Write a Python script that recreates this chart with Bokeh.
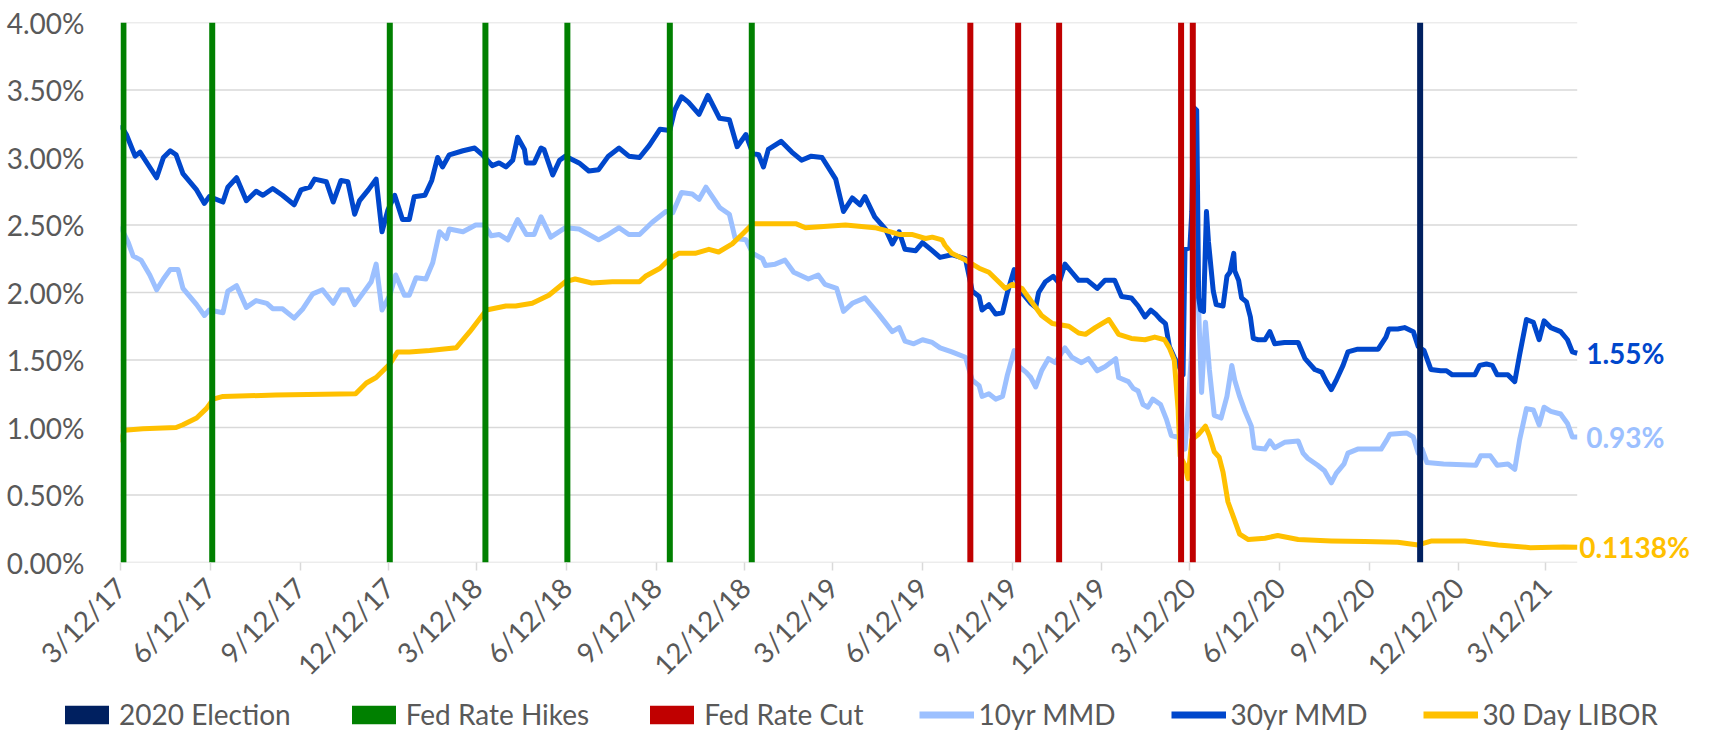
import math
import pandas as pd
from bokeh.plotting import figure
from bokeh.layouts import column
from bokeh.models import (FixedTicker, PrintfTickFormatter, Legend, LegendItem,
                          Label, Range1d)
from bokeh.embed import file_html
from bokeh.resources import INLINE

# ---------------- data ----------------
tick_labels = ["3/12/17", "6/12/17", "9/12/17", "12/12/17", "3/12/18", "6/12/18",
               "9/12/18", "12/12/18", "3/12/19", "6/12/19", "9/12/19", "12/12/19",
               "3/12/20", "6/12/20", "9/12/20", "12/12/20", "3/12/21"]
y_ticks = [0.0, 0.5, 1.0, 1.5, 2.0, 2.5, 3.0, 3.5, 4.0]

hike_dates = ["2017-03-15", "2017-06-14", "2017-12-13", "2018-03-21", "2018-06-13",
              "2018-09-26", "2018-12-19"]
cut_dates = ["2019-07-31", "2019-09-18", "2019-10-30", "2020-03-03", "2020-03-15"]
election_dates = ["2020-11-03"]

mmd30_dates = [
    "2017-03-12", "2017-03-18", "2017-03-27", "2017-04-01", "2017-04-09", "2017-04-18",
    "2017-04-25", "2017-05-02", "2017-05-08", "2017-05-15", "2017-05-29", "2017-06-06",
    "2017-06-11", "2017-06-25", "2017-06-30", "2017-07-09", "2017-07-19", "2017-07-29",
    "2017-08-05", "2017-08-15", "2017-08-25", "2017-09-06", "2017-09-13", "2017-09-22",
    "2017-09-27", "2017-10-09", "2017-10-16", "2017-10-24", "2017-10-31", "2017-11-07",
    "2017-11-12", "2017-11-21", "2017-11-29", "2017-12-05", "2017-12-11", "2017-12-18",
    "2017-12-26", "2018-01-02", "2018-01-07", "2018-01-18", "2018-01-25", "2018-01-31",
    "2018-02-05", "2018-02-12", "2018-02-26", "2018-03-10", "2018-03-18", "2018-03-28",
    "2018-04-04", "2018-04-11", "2018-04-18", "2018-04-23", "2018-04-30", "2018-05-02",
    "2018-05-10", "2018-05-17", "2018-05-20", "2018-05-29", "2018-06-05", "2018-06-11",
    "2018-06-25", "2018-07-05", "2018-07-15", "2018-07-25", "2018-08-05", "2018-08-15",
    "2018-08-26", "2018-09-05", "2018-09-16", "2018-09-26", "2018-10-01", "2018-10-08",
    "2018-10-15", "2018-10-26", "2018-11-04", "2018-11-16", "2018-11-26", "2018-12-04",
    "2018-12-13", "2018-12-20", "2018-12-26", "2018-12-31", "2019-01-05", "2019-01-18",
    "2019-01-29", "2019-02-08", "2019-02-18", "2019-03-01", "2019-03-15", "2019-03-23",
    "2019-04-01", "2019-04-09", "2019-04-14", "2019-04-24", "2019-05-05", "2019-05-12",
    "2019-05-19", "2019-05-25", "2019-06-05", "2019-06-12", "2019-06-22", "2019-06-30",
    "2019-07-12", "2019-07-26", "2019-08-02", "2019-08-09", "2019-08-12", "2019-08-19",
    "2019-08-26", "2019-09-02", "2019-09-07", "2019-09-14", "2019-09-19", "2019-09-24",
    "2019-10-01", "2019-10-06", "2019-10-09", "2019-10-16", "2019-10-24", "2019-10-30",
    "2019-11-05", "2019-11-12", "2019-11-19", "2019-11-28", "2019-12-08", "2019-12-16",
    "2019-12-26", "2020-01-02", "2020-01-12", "2020-01-19", "2020-01-26", "2020-02-01",
    "2020-02-06", "2020-02-11", "2020-02-16", "2020-02-20", "2020-02-25", "2020-03-01",
    "2020-03-05", "2020-03-07", "2020-03-12", "2020-03-14", "2020-03-16", "2020-03-19",
    "2020-03-21", "2020-03-23", "2020-03-26", "2020-03-29", "2020-03-31", "2020-04-05",
    "2020-04-08", "2020-04-15", "2020-04-19", "2020-04-22", "2020-04-26", "2020-04-27",
    "2020-05-01", "2020-05-04", "2020-05-09", "2020-05-13", "2020-05-16", "2020-05-21",
    "2020-05-28", "2020-06-02", "2020-06-07", "2020-06-17", "2020-07-01", "2020-07-08",
    "2020-07-18", "2020-07-25", "2020-07-30", "2020-08-04", "2020-08-09", "2020-08-16",
    "2020-08-21", "2020-08-31", "2020-09-21", "2020-09-29", "2020-10-02", "2020-10-11",
    "2020-10-18", "2020-10-27", "2020-11-01", "2020-11-07", "2020-11-14", "2020-11-24",
    "2020-11-30", "2020-12-06", "2020-12-29", "2021-01-03", "2021-01-10", "2021-01-16",
    "2021-01-21", "2021-02-01", "2021-02-08", "2021-02-13", "2021-02-20", "2021-02-27",
    "2021-03-05", "2021-03-10", "2021-03-17", "2021-03-27", "2021-04-03", "2021-04-08",
    "2021-04-13"]
mmd30_vals = [
    3.24, 3.17, 3.01, 3.04, 2.95, 2.85, 3.00, 3.05, 3.02, 2.88, 2.76, 2.66,
    2.71, 2.67, 2.78, 2.85, 2.68, 2.75, 2.72, 2.77, 2.72, 2.65, 2.76, 2.78,
    2.84, 2.82, 2.67, 2.83, 2.82, 2.58, 2.68, 2.76, 2.84, 2.45, 2.61, 2.72,
    2.54, 2.54, 2.71, 2.72, 2.83, 3.00, 2.93, 3.02, 3.05, 3.07, 3.02, 2.94,
    2.96, 2.93, 2.98, 3.15, 3.06, 2.96, 2.96, 3.07, 3.06, 2.87, 2.98, 3.01,
    2.96, 2.90, 2.91, 3.01, 3.07, 3.01, 3.00, 3.09, 3.21, 3.20, 3.35, 3.45,
    3.41, 3.32, 3.46, 3.29, 3.28, 3.08, 3.17, 3.03, 3.02, 2.93, 3.06, 3.12,
    3.04, 2.98, 3.01, 3.00, 2.84, 2.60, 2.70, 2.65, 2.71, 2.56, 2.47, 2.36,
    2.45, 2.32, 2.31, 2.37, 2.31, 2.26, 2.28, 2.25, 2.01, 1.97, 1.87, 1.91,
    1.84, 1.85, 2.00, 2.17, 2.01, 1.98, 1.92, 1.89, 2.00, 2.08, 2.12, 2.07,
    2.21, 2.15, 2.09, 2.09, 2.03, 2.09, 2.09, 1.97, 1.96, 1.90, 1.82, 1.87,
    1.84, 1.80, 1.77, 1.60, 1.52, 1.45, 1.39, 2.32, 2.33, 2.60, 3.37, 3.35,
    1.96, 1.87, 1.86, 2.60, 2.38, 2.01, 1.91, 1.90, 2.12, 2.15, 2.29, 2.16,
    2.09, 1.96, 1.93, 1.82, 1.66, 1.65, 1.65, 1.71, 1.62, 1.63, 1.63, 1.51,
    1.43, 1.41, 1.34, 1.28, 1.35, 1.46, 1.56, 1.58, 1.58, 1.67, 1.73, 1.73,
    1.74, 1.71, 1.60, 1.57, 1.43, 1.42, 1.42, 1.39, 1.39, 1.46, 1.47, 1.46,
    1.39, 1.39, 1.34, 1.54, 1.80, 1.78, 1.65, 1.79, 1.74, 1.71, 1.65, 1.56,
    1.55]

mmd10_dates = [
    "2017-03-12", "2017-03-20", "2017-03-25", "2017-04-02", "2017-04-11", "2017-04-18",
    "2017-04-25", "2017-05-02", "2017-05-10", "2017-05-15", "2017-05-29", "2017-06-06",
    "2017-06-11", "2017-06-25", "2017-06-30", "2017-07-09", "2017-07-19", "2017-07-29",
    "2017-08-09", "2017-08-15", "2017-08-25", "2017-09-06", "2017-09-15", "2017-09-25",
    "2017-10-05", "2017-10-16", "2017-10-24", "2017-10-31", "2017-11-07", "2017-11-15",
    "2017-11-24", "2017-11-29", "2017-12-05", "2017-12-13", "2017-12-19", "2017-12-28",
    "2018-01-02", "2018-01-09", "2018-01-19", "2018-01-26", "2018-02-02", "2018-02-09",
    "2018-02-12", "2018-02-26", "2018-03-11", "2018-03-20", "2018-03-27", "2018-04-04",
    "2018-04-13", "2018-04-23", "2018-05-02", "2018-05-10", "2018-05-17", "2018-05-27",
    "2018-06-11", "2018-06-25", "2018-07-15", "2018-07-25", "2018-08-05", "2018-08-15",
    "2018-08-26", "2018-09-08", "2018-09-22", "2018-09-29", "2018-10-08", "2018-10-19",
    "2018-10-26", "2018-11-02", "2018-11-16", "2018-11-26", "2018-12-02", "2018-12-13",
    "2018-12-20", "2018-12-30", "2019-01-02", "2019-01-12", "2019-01-22", "2019-01-31",
    "2019-02-15", "2019-02-25", "2019-03-04", "2019-03-16", "2019-03-23", "2019-04-01",
    "2019-04-14", "2019-04-28", "2019-05-12", "2019-05-19", "2019-05-25", "2019-06-03",
    "2019-06-12", "2019-06-22", "2019-06-30", "2019-07-12", "2019-07-26", "2019-08-02",
    "2019-08-09", "2019-08-12", "2019-08-19", "2019-08-26", "2019-09-02", "2019-09-07",
    "2019-09-14", "2019-09-19", "2019-09-26", "2019-10-01", "2019-10-06", "2019-10-12",
    "2019-10-19", "2019-10-26", "2019-11-05", "2019-11-12", "2019-11-22", "2019-11-29",
    "2019-12-08", "2019-12-16", "2019-12-27", "2019-12-30", "2020-01-09", "2020-01-14",
    "2020-01-19", "2020-01-24", "2020-01-29", "2020-02-03", "2020-02-11", "2020-02-17",
    "2020-02-22", "2020-02-28", "2020-03-05", "2020-03-07", "2020-03-10", "2020-03-14",
    "2020-03-17", "2020-03-21", "2020-03-24", "2020-03-28", "2020-04-01", "2020-04-06",
    "2020-04-13", "2020-04-19", "2020-04-24", "2020-04-27", "2020-05-02", "2020-05-07",
    "2020-05-14", "2020-05-17", "2020-05-28", "2020-06-02", "2020-06-07", "2020-06-17",
    "2020-07-01", "2020-07-06", "2020-07-11", "2020-07-21", "2020-07-28", "2020-08-04",
    "2020-08-09", "2020-08-17", "2020-08-21", "2020-08-31", "2020-09-24", "2020-09-30",
    "2020-10-03", "2020-10-20", "2020-10-27", "2020-11-01", "2020-11-05", "2020-11-10",
    "2020-11-27", "2020-12-30", "2021-01-04", "2021-01-14", "2021-01-21", "2021-02-01",
    "2021-02-08", "2021-02-13", "2021-02-20", "2021-02-27", "2021-03-05", "2021-03-10",
    "2021-03-17", "2021-03-27", "2021-04-03", "2021-04-08", "2021-04-13"]
mmd10_vals = [
    2.49, 2.37, 2.27, 2.24, 2.13, 2.02, 2.10, 2.17, 2.17, 2.03, 1.91, 1.83,
    1.87, 1.85, 2.01, 2.05, 1.89, 1.94, 1.92, 1.88, 1.88, 1.81, 1.88, 1.99,
    2.02, 1.92, 2.02, 2.02, 1.91, 1.99, 2.08, 2.21, 1.87, 1.98, 2.13, 1.98,
    1.98, 2.11, 2.10, 2.22, 2.45, 2.40, 2.47, 2.45, 2.50, 2.50, 2.42, 2.43,
    2.39, 2.54, 2.43, 2.43, 2.56, 2.41, 2.48, 2.47, 2.39, 2.43, 2.48, 2.43,
    2.43, 2.52, 2.60, 2.59, 2.74, 2.73, 2.69, 2.78, 2.63, 2.58, 2.40, 2.39,
    2.29, 2.25, 2.20, 2.21, 2.24, 2.15, 2.10, 2.13, 2.06, 2.03, 1.86, 1.92,
    1.96, 1.84, 1.71, 1.74, 1.64, 1.62, 1.65, 1.63, 1.59, 1.56, 1.52, 1.35,
    1.31, 1.23, 1.25, 1.21, 1.23, 1.39, 1.57, 1.45, 1.41, 1.37, 1.30, 1.42,
    1.51, 1.48, 1.59, 1.52, 1.48, 1.51, 1.42, 1.45, 1.51, 1.37, 1.34, 1.29,
    1.27, 1.17, 1.15, 1.21, 1.17, 1.06, 0.94, 0.93, 0.91, 0.84, 1.13, 1.60,
    2.30, 1.87, 1.26, 1.78, 1.43, 1.09, 1.07, 1.23, 1.46, 1.35, 1.23, 1.13,
    1.01, 0.85, 0.84, 0.90, 0.85, 0.89, 0.90, 0.81, 0.77, 0.72, 0.68, 0.59,
    0.66, 0.73, 0.81, 0.84, 0.84, 0.91, 0.95, 0.96, 0.93, 0.81, 0.84, 0.74,
    0.73, 0.72, 0.79, 0.79, 0.72, 0.73, 0.69, 0.91, 1.14, 1.13, 1.02, 1.15,
    1.12, 1.10, 1.03, 0.93, 0.93]

libor_dates = [
    "2017-03-12", "2017-03-16", "2017-04-04", "2017-05-08", "2017-05-15", "2017-05-29",
    "2017-06-08", "2017-06-15", "2017-06-25", "2017-08-18", "2017-11-08", "2017-11-19",
    "2017-11-29", "2017-12-13", "2017-12-21", "2018-01-02", "2018-01-23", "2018-02-19",
    "2018-03-05", "2018-03-22", "2018-04-11", "2018-04-21", "2018-05-08", "2018-05-25",
    "2018-06-11", "2018-06-21", "2018-07-08", "2018-07-29", "2018-08-26", "2018-09-01",
    "2018-09-16", "2018-09-26", "2018-10-05", "2018-10-22", "2018-11-05", "2018-11-15",
    "2018-11-29", "2018-12-09", "2018-12-20", "2019-01-19", "2019-02-02", "2019-02-12",
    "2019-03-25", "2019-04-24", "2019-05-05", "2019-05-19", "2019-06-01", "2019-06-15",
    "2019-06-22", "2019-07-02", "2019-07-05", "2019-07-12", "2019-07-26", "2019-08-09",
    "2019-08-19", "2019-08-29", "2019-09-05", "2019-09-12", "2019-09-22", "2019-10-02",
    "2019-10-12", "2019-10-23", "2019-11-09", "2019-11-19", "2019-11-26", "2019-12-06",
    "2019-12-20", "2019-12-30", "2020-01-12", "2020-01-26", "2020-02-05", "2020-02-15",
    "2020-02-20", "2020-02-25", "2020-02-29", "2020-03-02", "2020-03-07", "2020-03-10",
    "2020-03-14", "2020-03-21", "2020-03-28", "2020-04-01", "2020-04-06", "2020-04-11",
    "2020-04-15", "2020-04-20", "2020-04-26", "2020-05-02", "2020-05-11", "2020-05-28",
    "2020-06-10", "2020-07-01", "2020-08-04", "2020-09-07", "2020-10-11", "2020-11-01",
    "2020-11-15", "2020-12-19", "2021-01-22", "2021-02-24", "2021-03-30", "2021-04-13"]
libor_vals = [
    0.89, 0.98, 0.99, 1.00, 1.02, 1.07, 1.14, 1.21, 1.23, 1.24, 1.25, 1.33,
    1.37, 1.47, 1.56, 1.56, 1.57, 1.59, 1.71, 1.87, 1.90, 1.90, 1.92, 1.98,
    2.08, 2.10, 2.07, 2.08, 2.08, 2.12, 2.18, 2.25, 2.29, 2.29, 2.32, 2.30,
    2.36, 2.43, 2.51, 2.51, 2.51, 2.48, 2.50, 2.48, 2.46, 2.43, 2.43, 2.40,
    2.41, 2.39, 2.35, 2.29, 2.24, 2.18, 2.15, 2.08, 2.03, 2.06, 2.03, 1.93,
    1.83, 1.77, 1.75, 1.70, 1.69, 1.74, 1.80, 1.69, 1.66, 1.65, 1.67, 1.65,
    1.59, 1.50, 1.13, 0.79, 0.72, 0.62, 0.91, 0.95, 1.01, 0.94, 0.82, 0.78,
    0.67, 0.45, 0.33, 0.21, 0.17, 0.18, 0.20, 0.17, 0.16, 0.155, 0.15, 0.13,
    0.16, 0.16, 0.13, 0.11, 0.115, 0.1138]

legend_labels = ["2020 Election", "Fed Rate Hikes", "Fed Rate Cut",
                 "10yr MMD", "30yr MMD", "30 Day LIBOR"]

# ---------------- styling / layout ----------------
C_ELECTION = "#002060"
C_HIKE = "#008000"
C_CUT = "#C00000"
C_10 = "#9CC0FF"
C_30 = "#0047CC"
C_LIBOR = "#FFC000"
GRID = "#D9D9D9"
TEXT = "#595959"
FONT = "Lato"
LINE_W = 5

FIG_W = 1717
PLOT_H, LEG_H = 696, 36
BORDER_L, BORDER_R, BORDER_T, BORDER_B = 120, 10, 22, 129
PX_PER_DAY = 0.9757           # horizontal scale of the reference
BAR_PX = 6                    # width of the event bars in pixels
DAY_MS = 86400000
LEGEND_X = 59                 # left edge of the legend, in pixels


def ms(d):
    return pd.Timestamp(d).value / 1e6


tick_dates = [pd.to_datetime(t, format="%m/%d/%y") for t in tick_labels]
tick_ms = [ms(d) for d in tick_dates]

x_start = pd.Timestamp(tick_dates[0])
x_end = pd.Timestamp(mmd30_dates[-1])
frame_w = FIG_W - BORDER_L - BORDER_R
# the frame is wider than the data so the end-of-series labels fit inside it
x_range_end = x_start + pd.Timedelta(days=frame_w / PX_PER_DAY)
bar_width_ms = BAR_PX / PX_PER_DAY * DAY_MS

p = figure(width=FIG_W, height=PLOT_H, x_axis_type="datetime",
           x_range=Range1d(x_start, x_range_end), y_range=Range1d(y_ticks[0], y_ticks[-1]),
           output_backend="svg", toolbar_location=None,
           min_border_left=BORDER_L, min_border_right=BORDER_R,
           min_border_top=BORDER_T, min_border_bottom=BORDER_B)
p.outline_line_color = None

# horizontal gridlines ending at the last data date
n = len(y_ticks)
p.segment(x0=[x_start] * n, x1=[x_end] * n, y0=y_ticks, y1=y_ticks,
          line_color=GRID, line_width=1.5)

p.line(pd.to_datetime(mmd10_dates), mmd10_vals, line_width=LINE_W,
       line_color=C_10, line_join="round")
p.line(pd.to_datetime(mmd30_dates), mmd30_vals, line_width=LINE_W,
       line_color=C_30, line_join="round")
p.line(pd.to_datetime(libor_dates), libor_vals, line_width=LINE_W,
       line_color=C_LIBOR, line_join="round")

top = y_ticks[-1]
p.vbar(x=pd.to_datetime(hike_dates), top=top, bottom=0, width=bar_width_ms,
       fill_color=C_HIKE, line_color=None)
p.vbar(x=pd.to_datetime(cut_dates), top=top, bottom=0, width=bar_width_ms,
       fill_color=C_CUT, line_color=None)
p.vbar(x=pd.to_datetime(election_dates), top=top, bottom=0, width=bar_width_ms,
       fill_color=C_ELECTION, line_color=None)

# axes
xa = p.xaxis[0]
xa.ticker = FixedTicker(ticks=tick_ms)
xa.major_label_overrides = {t: lab for t, lab in zip(tick_ms, tick_labels)}
xa.major_label_orientation = math.pi / 4
xa.axis_line_color = None
xa.major_tick_line_color = GRID
xa.major_tick_line_width = 1.5
xa.major_tick_in = 0
xa.major_tick_out = 8
xa.minor_tick_line_color = None
xa.major_label_standoff = 12
xa.major_label_text_font = FONT
xa.major_label_text_font_size = "28px"
xa.major_label_text_color = TEXT

ya = p.yaxis[0]
ya.ticker = FixedTicker(ticks=y_ticks)
ya.formatter = PrintfTickFormatter(format="%.2f%%")
ya.axis_line_color = None
ya.major_tick_line_color = None
ya.minor_tick_line_color = None
ya.major_label_standoff = 30
ya.major_label_text_font = FONT
ya.major_label_text_font_size = "28px"
ya.major_label_text_color = TEXT

p.xgrid.grid_line_color = None
p.ygrid.grid_line_color = None

# end-of-series labels
for dates, vals, col, fmt, off in [(mmd30_dates, mmd30_vals, C_30, "%.2f%%", 9),
                                   (mmd10_dates, mmd10_vals, C_10, "%.2f%%", 9),
                                   (libor_dates, libor_vals, C_LIBOR, "%.4f%%", 2)]:
    p.add_layout(Label(x=ms(dates[-1]), y=vals[-1], text=fmt % vals[-1],
                       x_offset=off, text_baseline="middle", text_align="left",
                       text_color=col, text_font=FONT, text_font_style="bold",
                       text_font_size="28px"))

# ---------------- legend strip (own figure below the chart) ----------------
lf = figure(width=FIG_W, height=LEG_H, x_range=Range1d(0, 1), y_range=Range1d(0, 1),
            output_backend="svg", toolbar_location=None,
            x_axis_location=None, y_axis_location=None, min_border=0)
lf.outline_line_color = None
lf.xgrid.grid_line_color = None
lf.ygrid.grid_line_color = None
if "frame_align" in lf.properties():
    lf.frame_align = False

# legend proxies: placed outside the strip's visible range, only their swatches show
proxy_x, proxy_y = [-2, -1], [-2, -1]
swatches = [
    lf.vbar(x=proxy_x, top=proxy_y, width=1, fill_color=C_ELECTION, line_color=None),
    lf.vbar(x=proxy_x, top=proxy_y, width=1, fill_color=C_HIKE, line_color=None),
    lf.vbar(x=proxy_x, top=proxy_y, width=1, fill_color=C_CUT, line_color=None),
    lf.line(x=proxy_x, y=proxy_y, line_width=LINE_W + 2, line_color=C_10),
    lf.line(x=proxy_x, y=proxy_y, line_width=LINE_W + 2, line_color=C_30),
    lf.line(x=proxy_x, y=proxy_y, line_width=LINE_W + 2, line_color=C_LIBOR),
]

legend = Legend(items=[LegendItem(label=lab, renderers=[r])
                       for lab, r in zip(legend_labels, swatches)],
                orientation="horizontal", location=(LEGEND_X, 1))
legend.glyph_width = 55
legend.glyph_height = 23
legend.label_standoff = 5
legend.spacing = 55
legend.padding = 0
legend.margin = 0
legend.border_line_color = None
legend.background_fill_alpha = 0
legend.label_text_font = FONT
legend.label_text_font_size = "28px"
legend.label_text_color = TEXT
lf.add_layout(legend, "center")

open("out.html", "w").write(file_html(column(p, lf), INLINE))
